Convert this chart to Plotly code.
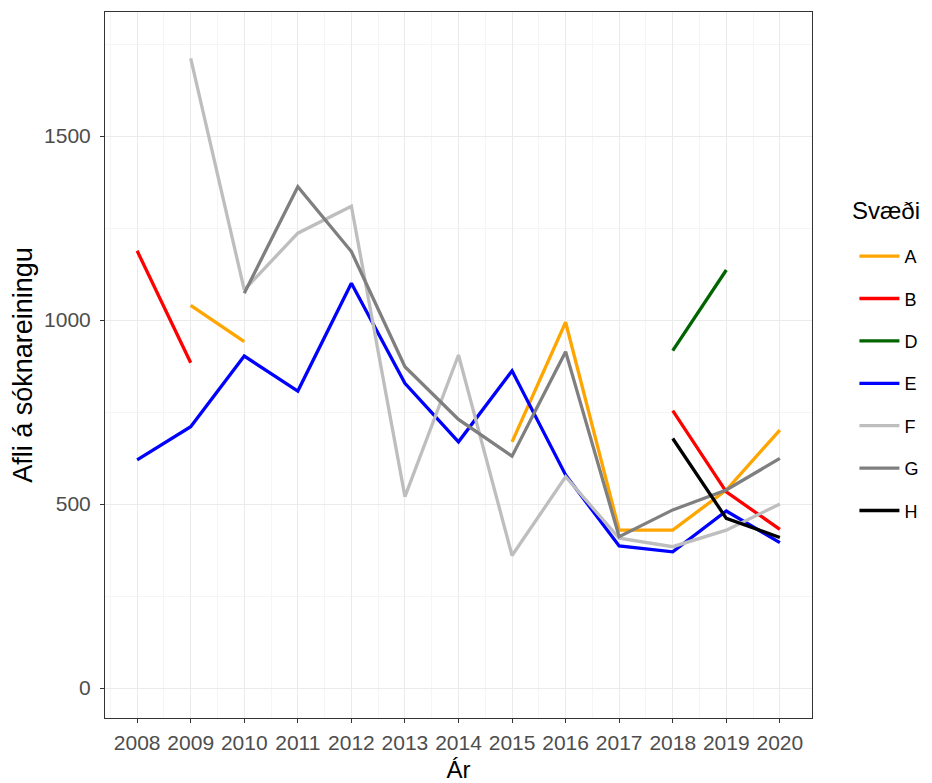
import plotly.graph_objects as go

years = list(range(2008, 2021))
A = [None, 1040, 941, None, None, None, None, 669, 994, 429, 429, 538, 701]
B = [1188, 884, None, None, None, None, None, None, None, None, 754, 533, 431]
D = [None, None, None, None, None, None, None, None, None, None, 917, 1136, None]
E = [620, 710, 902, 807, 1100, 828, 669, 862, 579, 386, 370, 481, 395]
F = [None, 1711, 1082, 1236, 1309, 520, 905, 360, 574, 407, 384, 429, 500]
G = [None, None, 1073, 1362, 1186, 873, 730, 630, 914, 411, 484, 538, 624]
H = [None, None, None, None, None, None, None, None, None, None, 678, 461, 409]

series = [("A", A, "#FFA500"), ("B", B, "#FF0000"), ("D", D, "#006400"),
          ("E", E, "#0000FF"), ("F", F, "#BEBEBE"), ("G", G, "#7F7F7F"),
          ("H", H, "#000000")]

FONT = "Liberation Sans, Arial, sans-serif"

fig = go.Figure()
for name, vals, col in series:
    fig.add_trace(go.Scatter(x=years, y=vals, mode="lines", name=name,
                             legendgroup=name,
                             line=dict(color=col, width=3.3),
                             connectgaps=False))

fig.update_layout(
    width=924, height=775,
    paper_bgcolor="white", plot_bgcolor="white",
    margin=dict(l=97, r=120, t=4, b=65, autoexpand=False),
    font=dict(family=FONT, color="#000000"),
    legend=dict(font=dict(size=18, color="#000000"),
                x=1.06, xanchor="left", y=0.68, yanchor="top",
                tracegroupgap=16, itemwidth=40,
                bgcolor="rgba(0,0,0,0)"),
    showlegend=True,
    annotations=[dict(text="Svæði", xref="paper", yref="paper",
                      x=1.054, y=0.719, xanchor="left", yanchor="middle",
                      showarrow=False, font=dict(size=24, color="#000000"))],
)

fig.update_xaxes(
    range=[2007.4, 2020.6],
    tickmode="array", tickvals=years, ticktext=[str(y) for y in years],
    tickfont=dict(size=21, color="#4D4D4D"),
    ticks="outside", ticklen=4, tickcolor="#333333", tickwidth=1,
    ticklabelstandoff=2,
    showgrid=True, gridcolor="#EBEBEB", gridwidth=1.2,
    minor=dict(tickmode="array", tickvals=[y + 0.5 for y in years[:-1]] + [2007.5],
               showgrid=True, gridcolor="#F5F5F5", gridwidth=0.6, ticks=""),
    showline=True, linecolor="#333333", linewidth=1, mirror=True,
    zeroline=False, automargin=False,
    title=dict(text="Ár", font=dict(size=24, color="#000000"), standoff=8),
)
fig.update_yaxes(
    range=[-81.5, 1837],
    tickmode="array", tickvals=[0, 500, 1000, 1500],
    tickfont=dict(size=21, color="#4D4D4D"),
    ticks="outside", ticklen=4, tickcolor="#333333", tickwidth=1,
    ticklabelstandoff=5,
    showgrid=True, gridcolor="#EBEBEB", gridwidth=1.2,
    minor=dict(tickmode="array", tickvals=[250, 750, 1250, 1750],
               showgrid=True, gridcolor="#F5F5F5", gridwidth=0.6, ticks=""),
    showline=True, linecolor="#333333", linewidth=1, mirror=True,
    zeroline=False, automargin=False,
    title=dict(text="Afli á sóknareiningu", font=dict(size=27, color="#000000"), standoff=9),
)

fig.write_html("out.html")
